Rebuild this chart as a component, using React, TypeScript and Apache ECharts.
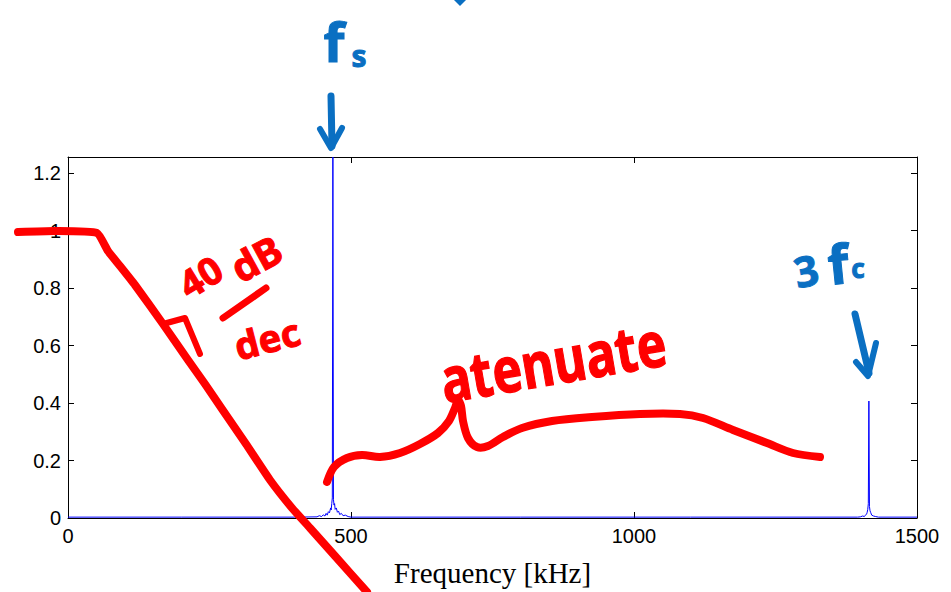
import React, { useEffect, useRef } from "react";
import * as echarts from "echarts";

// Spectrum (frequency in kHz, magnitude)
const freqKHz = [
  0, 200, 400, 440, 444, 448, 451, 454, 456, 458, 460, 462, 464, 465, 466, 467,
  468, 469, 470, 471, 472, 474, 476, 478, 480, 483, 486, 490, 495, 500, 800,
  1100, 1395, 1400, 1404, 1407, 1409, 1411, 1412, 1413, 1414, 1415, 1416, 1417,
  1418, 1420, 1423, 1427, 1432, 1500,
];
const magnitude = [
  0.003, 0.003, 0.003, 0.004, 0.008, 0.005, 0.011, 0.007, 0.016, 0.01, 0.022,
  0.018, 0.035, 0.028, 0.05, 0.07, 1.256, 0.065, 0.045, 0.05, 0.03, 0.035,
  0.02, 0.024, 0.012, 0.016, 0.008, 0.01, 0.005, 0.003, 0.003, 0.003, 0.003,
  0.004, 0.007, 0.005, 0.01, 0.014, 0.02, 0.03, 0.05, 0.407, 0.04, 0.025, 0.02,
  0.01, 0.007, 0.005, 0.003, 0.003,
];
const xTickLabels = ["0", "500", "1000", "1500"];
const yTickLabels = ["0", "0.2", "0.4", "0.6", "0.8", "1", "1.2"];
const xAxisName = "Frequency [kHz]";

const RED = "#FF0000";
const BLUE = "#0A6FC2";

export default function App() {
  const ref = useRef<HTMLDivElement>(null);
  useEffect(() => {
    if (!ref.current) return;
    const chart = echarts.init(ref.current, null, { renderer: "svg" });
    const data = freqKHz.map((f, i) => [f, magnitude[i]]);
    const tickFont = { fontFamily: "Liberation Sans, Arial, sans-serif", fontSize: 20, color: "#000" };
    const axisLine = { show: true, onZero: false, lineStyle: { color: "#000", width: 1 } };
    const axisTick = { show: true, inside: true, length: 6, lineStyle: { color: "#000" } };
    const stroke = (points: number[][], width: number, color: string, smooth = 0.3) => ({
      type: "polyline",
      z: 100,
      shape: { points, smooth },
      style: { stroke: color, lineWidth: width, fill: null, lineCap: "round", lineJoin: "round" },
    });
    const hand = (text: string, x: number, y: number, size: number, color: string, rot = 0, sy = 1) => ({
      type: "text",
      z: 100,
      x,
      y,
      rotation: rot,
      scaleY: sy,
      style: {
        text,
        fill: color,
        font: `bold ${size}px "Noto Sans", sans-serif`,
        lineHeight: size,
        align: "center",
        verticalAlign: "middle",
        stroke: color,
        lineWidth: 1,
      },
    });
    chart.setOption({
      animation: false,
      backgroundColor: "#fff",
      grid: { left: 68, right: 34, top: 157, bottom: 72, containLabel: false },
      xAxis: [
        {
          type: "value",
          min: 0,
          max: 1500,
          interval: 500,
          position: "bottom",
          axisLine,
          axisTick,
          axisLabel: {
            ...tickFont,
            margin: 8,
            formatter: (v: number) => xTickLabels[Math.round(v / 500)] ?? "",
          },
          splitLine: { show: false },
          name: xAxisName,
          nameLocation: "middle",
          nameGap: 40,
          nameTextStyle: { fontFamily: "Liberation Serif, Times New Roman, serif", fontSize: 29, color: "#000" },
        },
        {
          type: "value",
          min: 0,
          max: 1500,
          interval: 500,
          position: "top",
          axisLine,
          axisTick,
          axisLabel: { show: false },
          splitLine: { show: false },
        },
      ],
      yAxis: [
        {
          type: "value",
          min: 0,
          max: 1.256,
          interval: 0.2,
          position: "left",
          axisLine,
          axisTick,
          axisLabel: {
            ...tickFont,
            margin: 7,
            showMaxLabel: false,
            formatter: (v: number) => {
              const i = Math.round(v / 0.2);
              return Math.abs(v - i * 0.2) < 1e-6 ? yTickLabels[i] ?? "" : "";
            },
          },
          splitLine: { show: false },
        },
        {
          type: "value",
          min: 0,
          max: 1.256,
          interval: 0.2,
          position: "right",
          axisLine,
          axisTick,
          axisLabel: { show: false },
          splitLine: { show: false },
        },
      ],
      series: [
        {
          type: "line",
          data,
          xAxisIndex: 0,
          yAxisIndex: 0,
          symbol: "none",
          lineStyle: { color: "#0000FF", width: 1 },
          z: 3,
        },
      ],
      graphic: [
        // red low-pass sketch
        stroke(
          [
            [18, 232], [55, 231], [97, 233], [108, 251], [120, 266], [135, 285],
            [163, 324], [188, 360], [205, 384], [222, 409], [246, 444], [270, 480],
            [292, 508], [310, 528], [335, 556], [367, 592],
          ],
          8,
          RED,
          0.15
        ),
        // right angle mark
        stroke([[163, 324], [185, 318], [200, 354]], 6, RED, 0),
        // fraction bar
        stroke([[223, 318], [266, 288]], 7, RED, 0),
        hand("40", 200, 276, 38, RED, 0.55),
        hand("dB", 256, 258, 40, RED, 0.5),
        hand("dec", 267, 338, 38, RED, 0.25),
        // attenuate curve
        stroke(
          [
            [327, 482], [334, 467], [347, 458], [362, 455], [380, 457], [400, 453],
            [420, 444], [438, 433], [449, 421], [455, 408], [458, 400], [461, 406],
            [463, 421], [468, 438], [477, 447], [488, 446], [503, 437], [522, 428],
            [552, 421], [592, 417], [640, 414], [680, 414], [703, 418], [733, 430],
            [767, 443], [793, 453], [820, 457],
          ],
          8,
          RED,
          0.3
        ),
        hand("atenuate", 553, 360, 50, RED, 0.17, 1.25),
        // blue annotations
        hand("f", 334, 41, 54, BLUE),
        hand("s", 359, 55, 30, BLUE),
        stroke([[331, 96], [332, 146]], 7, BLUE, 0),
        stroke([[320, 129], [331, 148], [342, 128]], 6, BLUE, 0),
        hand("3", 806, 270, 42, BLUE, 0.2),
        hand("f", 838, 263, 54, BLUE, 0.1),
        hand("c", 858, 268, 26, BLUE),
        stroke([[855, 314], [869, 373]], 7, BLUE, 0),
        stroke([[856, 362], [868, 376], [876, 343]], 6, BLUE, 0),
        {
          type: "polygon",
          z: 100,
          shape: { points: [[454, 0], [466, 0], [460, 6]] },
          style: { fill: BLUE },
        },
      ],
    });
    return () => chart.dispose();
  }, []);
  return (
    <div
      ref={ref}
      style={{ position: "absolute", left: 0, top: 0, width: 951, height: 592 }}
    />
  );
}
